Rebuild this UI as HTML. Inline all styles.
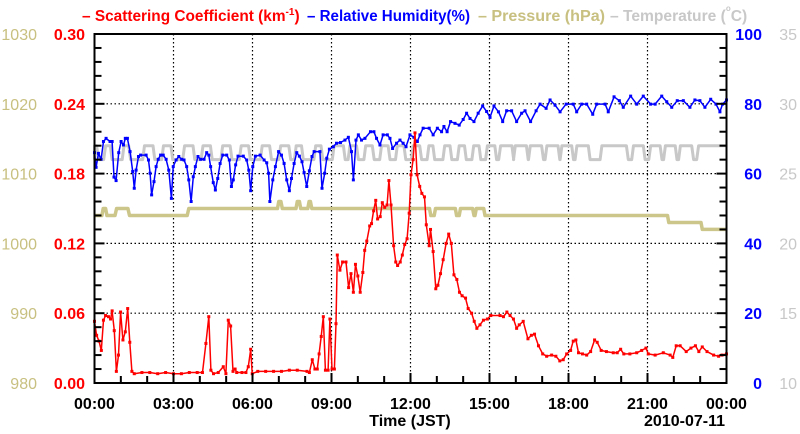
<!DOCTYPE html>
<html><head><meta charset="utf-8"><style>
html,body{margin:0;padding:0;background:#fff;}
svg{display:block;font-family:"Liberation Sans",Arial,sans-serif;}
</style></head><body>
<svg id="chart" width="800" height="434" viewBox="0 0 800 434">
<g id="grid"></g>
<g id="series"></g>
<g id="axes"></g>
<g font-size="16" font-weight="bold">
<text x="82" y="21" fill="#ff0000" font-size="15.4">– Scattering Coefficient (km<tspan dy="-6" font-size="10">-1</tspan><tspan dy="6">)</tspan></text>
<text x="307" y="21" fill="#0000ff" textLength="163" lengthAdjust="spacingAndGlyphs">– Relative Humidity(%)</text>
<text x="478" y="21" fill="#c8c080" textLength="127" lengthAdjust="spacingAndGlyphs">– Pressure (hPa)</text>
<text x="610" y="21" fill="#c8c8c8" font-size="15.6">– Temperature (<tspan dy="-10" font-size="8">o</tspan><tspan dy="10">C)</tspan></text>
</g>
<text x="410" y="426" text-anchor="middle" font-size="16" font-weight="bold">Time (JST)</text>
<text x="725" y="426" text-anchor="end" font-size="16" font-weight="bold">2010-07-11</text>
</svg>
<script>
// ---- data ----
const scatT = [0,0.08,0.17,0.26,0.34,0.42,0.53,0.61,0.67,0.75,0.83,0.91,0.99,1.08,1.17,1.26,1.34,1.42,1.51,1.8,2.1,2.4,2.7,3.0,3.3,3.6,3.9,4.1,4.23,4.34,4.42,4.52,4.7,4.89,4.99,5.08,5.17,5.26,5.34,5.4,5.6,5.75,5.84,5.93,5.99,6.2,6.5,6.8,7.1,7.4,7.7,8.07,8.16,8.27,8.37,8.46,8.53,8.61,8.69,8.77,8.87,8.94,9.02,9.11,9.17,9.22,9.32,9.42,9.55,9.65,9.74,9.83,9.91,10.0,10.09,10.19,10.26,10.34,10.45,10.52,10.6,10.68,10.75,10.85,10.93,11.02,11.11,11.18,11.26,11.36,11.44,11.51,11.61,11.69,11.78,11.87,11.95,12.02,12.1,12.17,12.25,12.35,12.43,12.53,12.6,12.71,12.76,12.86,12.96,13.04,13.14,13.24,13.35,13.45,13.55,13.65,13.76,13.86,13.96,14.09,14.19,14.32,14.42,14.52,14.64,14.77,14.92,15.05,15.4,15.53,15.66,15.78,15.91,16.03,16.13,16.28,16.46,16.59,16.71,16.86,17.02,17.17,17.36,17.52,17.67,17.8,17.93,18.08,18.18,18.28,18.38,18.53,18.69,18.84,18.99,19.09,19.24,19.44,19.7,19.85,19.98,20.1,20.33,20.59,20.78,20.94,21.03,21.29,21.6,21.86,21.96,22.09,22.24,22.47,22.65,22.82,22.95,23.08,23.26,23.51,23.7,23.83,24.0];
const scatV = [0.053,0.041,0.036,0.028,0.054,0.058,0.057,0.055,0.062,0.045,0.010,0.024,0.061,0.037,0.044,0.064,0.035,0.010,0.008,0.009,0.009,0.008,0.009,0.008,0.008,0.009,0.009,0.009,0.034,0.057,0.011,0.008,0.009,0.014,0.008,0.054,0.049,0.010,0.012,0.009,0.009,0.009,0.014,0.029,0.008,0.010,0.010,0.010,0.010,0.011,0.011,0.010,0.009,0.020,0.012,0.012,0.025,0.040,0.057,0.011,0.011,0.055,0.012,0.012,0.051,0.110,0.097,0.104,0.104,0.082,0.094,0.078,0.102,0.092,0.078,0.095,0.114,0.122,0.135,0.137,0.148,0.157,0.141,0.143,0.155,0.151,0.153,0.174,0.153,0.118,0.104,0.101,0.104,0.110,0.119,0.124,0.146,0.179,0.192,0.215,0.179,0.169,0.163,0.160,0.136,0.118,0.132,0.113,0.081,0.084,0.094,0.106,0.120,0.128,0.120,0.093,0.089,0.078,0.075,0.073,0.064,0.060,0.053,0.047,0.050,0.054,0.055,0.058,0.058,0.057,0.061,0.058,0.055,0.047,0.050,0.053,0.038,0.041,0.042,0.032,0.025,0.023,0.024,0.023,0.019,0.020,0.025,0.028,0.036,0.037,0.026,0.025,0.024,0.027,0.037,0.035,0.028,0.027,0.026,0.026,0.029,0.025,0.025,0.026,0.028,0.030,0.025,0.024,0.026,0.024,0.022,0.032,0.032,0.027,0.030,0.032,0.027,0.031,0.027,0.024,0.023,0.024,0.025];
const rhT = [0,0.06,0.15,0.25,0.34,0.44,0.59,0.67,0.74,0.82,0.92,1.01,1.10,1.17,1.25,1.35,1.45,1.51,1.58,1.67,1.75,1.96,2.05,2.11,2.17,2.26,2.34,2.42,2.51,2.61,2.72,2.82,2.92,2.99,3.10,3.20,3.31,3.40,3.50,3.58,3.67,3.75,3.83,3.93,4.03,4.16,4.26,4.34,4.41,4.51,4.59,4.68,4.77,4.87,5.02,5.12,5.20,5.27,5.36,5.45,5.65,5.78,5.86,5.93,6.01,6.11,6.29,6.44,6.54,6.61,6.66,6.77,6.87,6.99,7.10,7.20,7.30,7.40,7.48,7.58,7.68,7.78,7.88,7.96,8.06,8.16,8.26,8.34,8.56,8.64,8.74,8.82,8.92,9.07,9.19,9.34,9.51,9.64,9.76,9.83,9.93,10.02,10.14,10.27,10.48,10.61,10.71,10.84,10.96,11.12,11.22,11.32,11.47,11.60,11.72,11.83,11.98,12.13,12.26,12.36,12.48,12.71,12.86,13.02,13.18,13.27,13.39,13.52,13.69,13.85,14.0,14.13,14.26,14.41,14.57,14.74,14.89,15.02,15.17,15.34,15.50,15.65,15.84,16.03,16.22,16.35,16.56,16.77,16.92,17.15,17.30,17.49,17.68,17.91,18.18,18.31,18.5,18.69,18.92,19.07,19.39,19.51,19.73,19.93,20.08,20.36,20.59,20.84,21.12,21.29,21.54,21.73,21.92,22.13,22.36,22.61,22.8,22.99,23.18,23.4,23.6,23.75,23.85,24.0];
const rhV = [66.0,61.8,65.8,64.1,69.2,70.1,69.2,69.2,59.0,58.0,66.0,69.2,68.2,70.1,70.1,66.3,60.6,55.8,61.0,64.9,65.3,65.3,63.9,60.1,53.9,57.7,62.0,64.1,65.3,65.3,64.1,61.0,52.9,62.0,63.9,64.9,64.1,63.9,62.0,58.2,52.0,59.1,62.0,64.9,64.1,64.1,66.0,65.3,62.0,57.4,55.3,58.6,62.9,65.3,65.3,63.9,56.3,58.2,62.5,65.0,65.0,63.9,61.0,55.1,62.0,65.0,65.3,63.9,63.1,60.1,52.0,58.2,62.0,66.3,65.3,62.9,58.2,55.1,58.6,62.9,66.0,65.0,63.4,60.3,56.3,60.8,64.9,66.3,66.3,55.8,60.1,64.4,67.0,67.7,68.7,68.9,69.6,70.4,66.3,58.2,69.6,71.1,69.6,70.1,72.0,72.0,70.1,68.2,71.1,71.1,70.1,67.2,68.7,69.6,68.7,67.7,71.1,70.4,69.2,71.1,73.0,73.0,71.1,73.0,72.0,73.5,72.0,74.9,74.4,73.9,75.5,77.3,75.8,74.9,77.3,79.4,77.8,76.1,79.4,77.7,74.9,78.0,78.0,74.9,77.3,78.0,74.9,78.0,79.9,78.7,81.1,79.6,77.7,79.9,79.9,77.7,79.9,79.9,77.0,79.9,79.9,77.7,82.0,80.9,79.0,82.2,79.9,82.2,79.9,79.9,82.2,80.6,79.0,80.9,80.9,79.0,81.1,80.9,79.0,81.3,79.9,77.7,79.9,81.1];
const pressT = [0,0.28,0.33,0.42,0.47,0.78,0.84,1.27,1.33,3.52,3.58,6.95,7.0,7.08,7.13,7.65,7.7,7.78,7.83,8.1,8.15,8.2,8.25,12.72,12.77,12.9,12.95,13.7,13.75,13.85,13.9,14.36,14.41,14.45,14.5,14.78,14.83,21.76,21.81,23.03,23.08,24];
const pressV = [1004,1004,1005,1005,1004,1004,1005,1005,1004,1004,1005,1005,1006,1006,1005,1005,1006,1006,1005,1005,1006,1006,1005,1005,1004,1004,1005,1005,1004,1004,1005,1005,1004,1004,1005,1005,1004,1004,1003,1003,1002,1002];
const tempHighStart = [0.0,0.42,1.12,1.9,2.62,3.42,4.12,4.87,5.57,6.37,7.07,7.66,8.4,9.1,9.7,10.3,10.9,11.5,12.1,12.7,13.3,13.85,14.4,14.92,15.42,15.98,16.55,17.18,17.75,18.32,19.27,20.47,21.12,21.68,22.25,22.94];
const tempHighEnd   = [0.08,0.6,1.3,2.22,2.9,3.74,4.4,5.15,5.85,6.65,7.38,7.86,8.6,9.45,9.95,10.55,11.15,11.75,12.35,12.85,13.5,14.05,14.6,15.2,15.85,16.4,16.98,17.6,18.12,18.75,20.2,20.84,21.48,22.05,22.68,24.0];
const tempLow = 26, tempHigh = 27;
const xTickLabels = ["00:00","03:00","06:00","09:00","12:00","15:00","18:00","21:00","00:00"];
const scatTicks = ["0.00","0.06","0.12","0.18","0.24","0.30"];
const pressTicks = ["980","990","1000","1010","1020","1030"];
const rhTicks = ["0","20","40","60","80","100"];
const tempTicks = ["10","15","20","25","30","35"];

// ---- geometry ----
const L=94.5, R=726.5, T=34, B=383;
const NS="http://www.w3.org/2000/svg";
const x = h => L + h/24*(R-L);
const yS = v => B - v/0.30*(B-T);
const yRH = v => B - v/100*(B-T);
const yP = v => B - (v-980)/50*(B-T);
const yTmp = v => B - (v-10)/25*(B-T);
function mk(tag, attrs, parent){const e=document.createElementNS(NS,tag);for(const k in attrs)e.setAttribute(k,attrs[k]);parent.appendChild(e);return e;}
const grid=document.getElementById('grid'), series=document.getElementById('series'), axes=document.getElementById('axes');

for(let i=1;i<8;i++){const g=mk('line',{x1:x(i*3),x2:x(i*3),y1:T,y2:B,stroke:'#000','stroke-width':1.2,'stroke-dasharray':'1.5 2.5'},grid);

}
for(let i=1;i<5;i++){const yy=B-i*(B-T)/5;const g=mk('line',{x1:L,x2:R,y1:yy,y2:yy,stroke:'#000','stroke-width':1.2,'stroke-dasharray':'1.5 2.5'},grid);

}

function poly(pts,color,w,name){const p=mk('polyline',{points:pts.map(p=>p[0].toFixed(1)+','+p[1].toFixed(1)).join(' '),fill:'none',stroke:color,'stroke-width':w,'stroke-linejoin':'round'},series);

return p;}

const tPts=[[x(0),yTmp(tempLow)]];
for(let i=0;i<tempHighStart.length;i++){const a=tempHighStart[i],b=tempHighEnd[i];
 tPts.push([x(Math.max(0,a-0.07)),yTmp(tempLow)],[x(a),yTmp(tempHigh)],[x(b),yTmp(tempHigh)]);
 if(b<24) tPts.push([x(b+0.07),yTmp(tempLow)]);}
poly(tPts,'#c8c8c8',3,'temperature-line');
poly(pressT.map((t,i)=>[x(t),yP(pressV[i])]),'#cdc68a',3.5,'pressure-line');
poly(rhT.map((t,i)=>[x(t),yRH(rhV[i])]),'#0000ff',1.5,'humidity-line');
rhT.forEach((t,i)=>{const m=mk('rect',{x:x(t)-1.5,y:yRH(rhV[i])-1.5,width:3,height:3,fill:'#0000ff'},series);

});
poly(scatT.map((t,i)=>[x(t),yS(scatV[i])]),'#ff0000',1.5,'scattering-line');
scatT.forEach((t,i)=>{const m=mk('rect',{x:x(t)-1.5,y:yS(scatV[i])-1.5,width:3,height:3,fill:'#ff0000'},series);

});

const fr=mk('rect',{x:L,y:T,width:R-L,height:B-T,fill:'none',stroke:'#000','stroke-width':2},axes);


for(let i=0;i<=25;i++){const yy=B-i*(B-T)/25;const big=i%5===0;const len=big?10:7;
 const a=mk('line',{x1:L,x2:L+len,y1:yy,y2:yy,stroke:'#000','stroke-width':2},axes);
 
 
 const b=mk('line',{x1:R,x2:R-len,y1:yy,y2:yy,stroke:'#000','stroke-width':2},axes);
 
 }
for(let i=0;i<=24;i++){const xx=x(i);const len=i%3===0?10:7;
 const a=mk('line',{x1:xx,x2:xx,y1:B,y2:B-len,stroke:'#000','stroke-width':2},axes);
 
 }
function txt(s,xx,yy,anchor,color,name,bold){const t=mk('text',{x:xx,y:yy,'text-anchor':anchor,fill:color,'font-size':16,'font-weight':bold?'bold':'normal'},axes);t.textContent=s;

}
for(let i=0;i<6;i++){const yy=B-i*(B-T)/5+6;
 txt(scatTicks[i],85,yy,'end','#ff0000','scattering-tick-label',true);
 txt(pressTicks[i],37,yy,'end','#c8c080','pressure-tick-label',false);
 txt(rhTicks[i],762,yy,'end','#0000ff','humidity-tick-label',true);
 txt(tempTicks[i],797,yy,'end','#c8c8c8','temperature-tick-label',false);}
xTickLabels.forEach((s,i)=>txt(s,x(i*3),409,'middle','#000','x-tick-label',true));
</script>
</body></html>
